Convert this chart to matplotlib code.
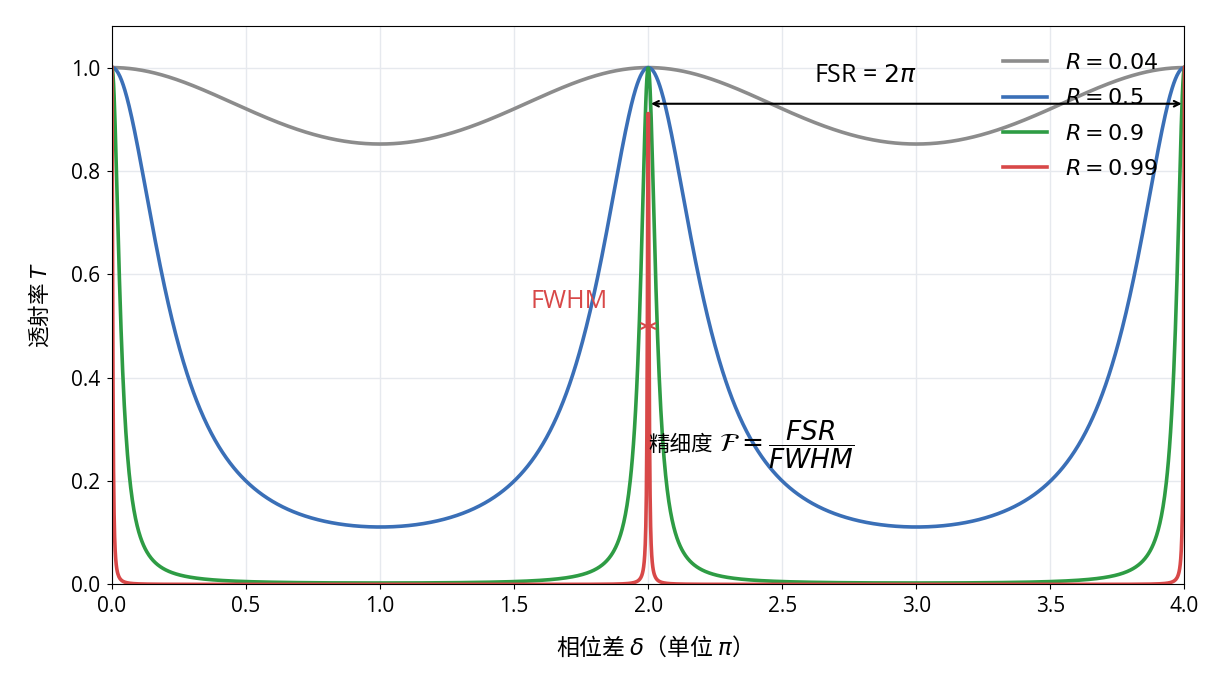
import matplotlib
matplotlib.use("Agg")
import matplotlib.pyplot as plt
import numpy as np

plt.rcParams["font.family"] = ["Open Sans", "Noto Sans CJK SC", "DejaVu Sans"]
plt.rcParams["axes.unicode_minus"] = False
CJK = ["Noto Sans CJK SC", "DejaVu Sans"]

# reflectivities and line colours
reflectivities = [0.04, 0.5, 0.9, 0.99]
colors = ["#8c8c8c", "#3a6fb7", "#2e9c44", "#d84848"]
labels = [r"$R = 0.04$", r"$R = 0.5$", r"$R = 0.9$", r"$R = 0.99$"]

# phase axis in units of pi
x = np.linspace(0, 4, 2000)

fig, ax = plt.subplots(figsize=(12.3, 6.9), dpi=100)

for R, c, lab in zip(reflectivities, colors, labels):
    F = 4 * R / (1 - R) ** 2
    T = 1 / (1 + F * np.sin(np.pi * x / 2) ** 2)
    ax.plot(x, T, color=c, lw=2.6, label=lab)

# FSR arrow
ax.annotate("", xy=(2.0, 0.93), xytext=(4.0, 0.93),
            arrowprops=dict(arrowstyle="<->", color="black", lw=1.5))
ax.text(2.81, 0.985, r"FSR = $2\pi$", ha="center", va="center", fontsize=18)

# FWHM marker for R = 0.99
R = reflectivities[-1]
fwhm = 2 * (1 - R) / np.sqrt(R) / np.pi
ax.annotate("", xy=(2 - fwhm / 2, 0.5), xytext=(2 + fwhm / 2, 0.5),
            arrowprops=dict(arrowstyle="<->", color=colors[-1], lw=1.5))
ax.text(1.705, 0.547, "FWHM", color=colors[-1], ha="center", va="center", fontsize=18)

# finesse label
ax.text(2.0, 0.27, "精细度", ha="left", va="center", fontsize=15.5, family=CJK)
ax.text(2.265, 0.27, r"$\mathcal{F} = \dfrac{FSR}{FWHM}$",
        ha="left", va="center", fontsize=19)

ax.set_xlim(0, 4)
ax.set_ylim(0, 1.08)
ax.set_xticks(np.arange(0, 4.01, 0.5))
ax.set_yticks(np.arange(0, 1.01, 0.2))
ax.tick_params(labelsize=15, pad=5)
ax.set_xlabel(r"相位差 $\delta$（单位 $\pi$）", fontsize=16.5, labelpad=12, family=CJK)
ax.set_ylabel(r"透射率 $T$", fontsize=15.5, labelpad=14, family=CJK)
ax.grid(color="#e6e9ee", lw=1)
ax.legend(loc="upper right", frameon=False, fontsize=16, labelspacing=0.65,
          handlelength=2.0, borderaxespad=0.5, borderpad=0.7)

fig.subplots_adjust(left=0.091, right=0.963, top=0.962, bottom=0.153)
fig.savefig("out.png", dpi=100)
